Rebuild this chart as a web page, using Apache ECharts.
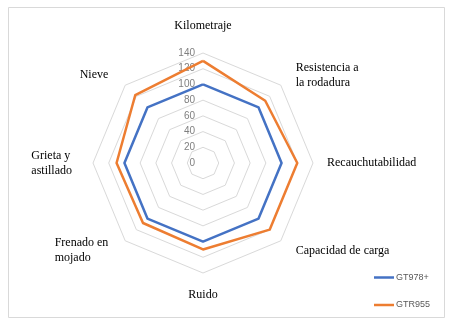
<!DOCTYPE html>
<html>
<head>
<meta charset="utf-8">
<script src="https://cdn.jsdelivr.net/npm/echarts@6/dist/echarts.min.js"></script>
<style>
html,body{margin:0;padding:0;background:#fff;}
#chart{width:450px;height:324px;}
</style>
</head>
<body>
<div id="chart"></div>
<script>
// Categories listed clockwise from the top (as in the reference)
var categories = ['Kilometraje', 'Resistencia a\nla rodadura', 'Recauchutabilidad', 'Capacidad de carga', 'Ruido', 'Frenado en\nmojado', 'Grieta y\nastillado', 'Nieve'];
var seriesNames = ['GT978+', 'GTR955'];
var gt978 = [100, 100, 100, 100, 100, 100, 100, 100];
var gtr955 = [130, 112, 120, 120, 110, 108, 110, 122];
var tickMax = 140;
var tickStep = 20;

// ECharts radar runs counter-clockwise: keep first, reverse the rest
function ccw(arr) { return [arr[0]].concat(arr.slice(1).reverse()); }

var leftSide = ['Frenado en\nmojado', 'Grieta y\nastillado', 'Nieve'];
var rightDiag = ['Resistencia a\nla rodadura', 'Capacidad de carga'];

var chart = echarts.init(document.getElementById('chart'), null, {renderer: 'canvas'});
var baseText = {fontFamily: 'Liberation Serif', fontSize: 12, color: '#000', lineHeight: 15};
var option = {
  animation: false,
  backgroundColor: '#fff',
  graphic: [{
    type: 'rect', left: 6, top: 5, shape: {width: 436, height: 310},
    style: {fill: 'none', stroke: '#d9d9d9', lineWidth: 1}, silent: true, z: -1
  }],
  legend: {
    orient: 'vertical', left: 369, top: 268,
    itemWidth: 20, itemHeight: 2.5, itemGap: 18.5, icon: 'rect',
    textStyle: {fontFamily: 'Liberation Sans', fontSize: 9, color: '#595959', padding: [0, 0, 0, -3]},
    data: seriesNames
  },
  radar: {
    center: [203, 163], radius: 110, shape: 'polygon',
    startAngle: 90, splitNumber: tickMax / tickStep,
    indicator: ccw(categories).map(function (c) { return {name: c, min: 0, max: tickMax}; }),
    nameGap: 14,
    axisName: {
      color: '#000', fontFamily: 'Liberation Serif', fontSize: 12,
      formatter: function (name) {
        if (name === 'Kilometraje') return '{k|' + name + '}';
        var st = leftSide.indexOf(name) >= 0 ? 'l' : (rightDiag.indexOf(name) >= 0 ? 'r' : 'a');
        return name.split('\n').map(function (l) { return '{' + st + '|' + l + '}'; }).join('\n');
      },
      rich: {
        a: Object.assign({align: 'left'}, baseText),
        l: Object.assign({align: 'left', padding: [0, 7, 0, 0]}, baseText),
        r: Object.assign({align: 'left', padding: [0, 0, 0, 5]}, baseText),
        k: {fontFamily: 'Liberation Serif', fontSize: 12, color: '#000', padding: [0, 0, 7, 0]}
      }
    },
    axisLine: {show: false},
    axisTick: {show: false},
    axisLabel: {show: false},
    splitArea: {show: false},
    splitLine: {lineStyle: {color: '#d9d9d9', width: 1}}
  },
  polar: {center: [203, 163], radius: 110},
  angleAxis: {show: false, startAngle: 90, min: 0, max: 360},
  radiusAxis: {
    min: 0, max: tickMax, interval: tickStep,
    axisLine: {show: false}, axisTick: {show: false}, splitLine: {show: false},
    axisLabel: {show: true, margin: 8, color: '#7f7f7f', fontFamily: 'Liberation Sans', fontSize: 10}
  },
  series: [{
    type: 'radar',
    symbol: 'none',
    data: [
      {name: seriesNames[0], value: ccw(gt978), lineStyle: {color: '#4472C4', width: 2.5}, itemStyle: {color: '#4472C4'}},
      {name: seriesNames[1], value: ccw(gtr955), lineStyle: {color: '#ED7D31', width: 2.5}, itemStyle: {color: '#ED7D31'}}
    ]
  }]
};
chart.setOption(option);
</script>
</body>
</html>
